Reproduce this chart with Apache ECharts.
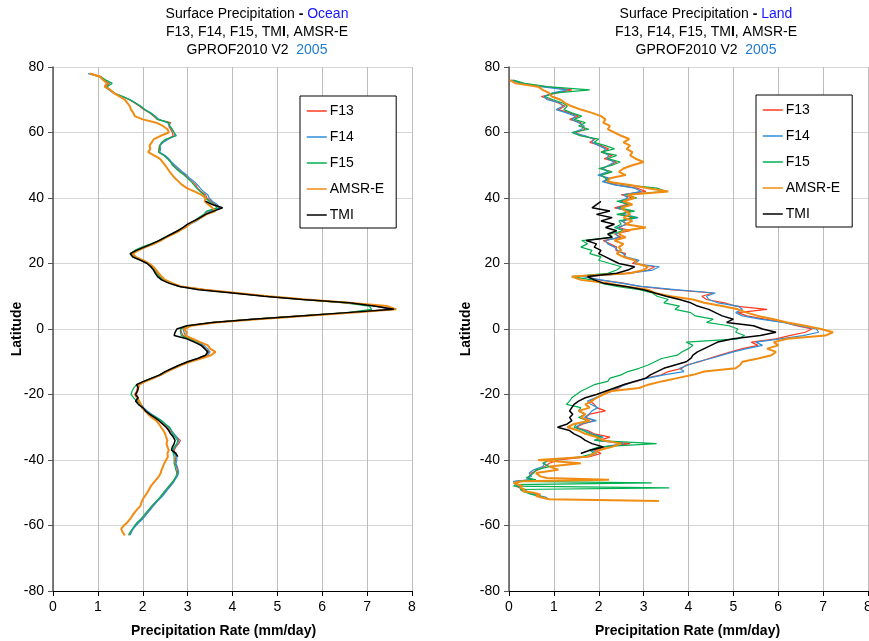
<!DOCTYPE html>
<html>
<head>
<meta charset="utf-8">
<script src="https://cdn.jsdelivr.net/npm/echarts@6/dist/echarts.min.js"></script>
<style>
  html, body { margin: 0; padding: 0; background: #fff; }
  #chart { width: 869px; height: 641px; }
</style>
</head>
<body>
<div id="chart"></div>
<script>
// ---------- Ocean panel: zonal mean surface precipitation (mm/day) by latitude ----------
const oceanLat = [
  78,77,76,75,74,73,72,71,70,69,
  68,67,66,65,64,63,62,61,60,59,
  58,57,56,55,54,53,52,51,50,49,
  48,47,46,45,44,43,42,41,40,39,
  38,37,36,35,34,33,32,31,30,29,
  28,27,26,25,24,23,22,21,20,19,
  18,17,16,15,14,13,12,11,10,9,
  8,7,6,5,4,3,2,1,0,-1,
  -2,-3,-4,-5,-6,-7,-8,-9,-10,-11,
  -12,-13,-14,-15,-16,-17,-18,-19,-20,-21,
  -22,-23,-24,-25,-26,-27,-28,-29,-30,-31,
  -32,-33,-34,-35,-36,-37,-38,-39,-40,-41,
  -42,-43,-44,-45,-46,-47,-48,-49,-50,-51,
  -52,-53,-54,-55,-56,-57,-58,-59,-60,-61,
  -62,-63
];
const oceanF13 = [
  0.85,1.08,1.15,1.26,1.18,1.27,1.36,1.55,1.70,1.82,
  1.93,2.02,2.15,2.24,2.32,2.62,2.58,2.62,2.66,2.68,
  2.55,2.44,2.37,2.36,2.35,2.48,2.56,2.62,2.68,2.76,
  2.84,2.95,3.02,3.10,3.18,3.22,3.30,3.40,3.43,3.52,
  3.62,3.70,3.46,3.38,3.26,3.18,3.02,2.94,2.80,2.66,
  2.50,2.38,2.22,2.03,1.86,1.75,1.82,1.98,2.12,2.20,
  2.27,2.32,2.38,2.48,2.62,2.82,3.35,4.05,4.75,5.60,
  6.55,7.25,7.55,6.60,5.55,4.50,3.58,3.02,2.85,2.86,
  2.90,3.06,3.20,3.32,3.40,3.48,3.42,3.25,3.02,2.84,
  2.68,2.52,2.40,2.22,2.05,1.90,1.88,1.86,1.82,1.86,
  1.89,1.95,2.00,2.08,2.18,2.30,2.40,2.46,2.55,2.60,
  2.68,2.76,2.84,2.80,2.74,2.70,2.72,2.74,2.73,2.72,
  2.75,2.77,2.78,2.76,2.70,2.66,2.60,2.54,2.48,2.42,
  2.35,2.28,2.22,2.16,2.10,2.05,1.98,1.90,1.84,1.78,
  1.74,1.70
];
const oceanF14 = [
  0.78,1.05,1.12,1.22,1.15,1.25,1.35,1.53,1.72,1.84,
  1.95,2.05,2.18,2.28,2.36,2.55,2.60,2.65,2.70,2.72,
  2.58,2.46,2.38,2.40,2.38,2.50,2.58,2.64,2.72,2.80,
  2.88,2.98,3.05,3.15,3.22,3.28,3.35,3.45,3.48,3.55,
  3.66,3.72,3.50,3.40,3.30,3.20,3.05,2.95,2.82,2.68,
  2.52,2.40,2.25,2.06,1.90,1.78,1.84,2.00,2.14,2.22,
  2.30,2.34,2.40,2.50,2.64,2.84,3.36,4.08,4.78,5.62,
  6.58,7.22,7.50,6.62,5.58,4.52,3.60,3.05,2.90,2.92,
  2.95,3.10,3.24,3.36,3.44,3.50,3.45,3.28,3.05,2.86,
  2.70,2.55,2.42,2.24,2.06,1.92,1.90,1.88,1.85,1.88,
  1.90,1.96,2.02,2.10,2.20,2.32,2.42,2.50,2.58,2.64,
  2.70,2.76,2.80,2.78,2.72,2.68,2.70,2.76,2.76,2.74,
  2.77,2.79,2.80,2.77,2.72,2.68,2.62,2.56,2.50,2.44,
  2.37,2.30,2.24,2.18,2.12,2.06,2.00,1.92,1.85,1.79,
  1.75,1.72
];
const oceanF15 = [
  0.82,1.06,1.18,1.32,1.20,1.28,1.38,1.56,1.72,1.84,
  1.96,2.04,2.16,2.26,2.33,2.58,2.60,2.66,2.70,2.75,
  2.52,2.42,2.38,2.37,2.36,2.47,2.55,2.62,2.66,2.74,
  2.82,2.92,3.00,3.08,3.14,3.20,3.28,3.36,3.40,3.48,
  3.58,3.66,3.42,3.36,3.24,3.15,3.00,2.92,2.78,2.64,
  2.48,2.36,2.18,1.98,1.82,1.72,1.78,1.96,2.10,2.18,
  2.26,2.30,2.36,2.46,2.60,2.80,3.33,4.02,4.72,5.55,
  6.50,7.05,7.10,6.55,5.52,4.48,3.56,3.00,2.84,2.84,
  2.86,3.02,3.18,3.30,3.38,3.44,3.40,3.22,3.00,2.82,
  2.66,2.50,2.38,2.20,2.02,1.86,1.80,1.76,1.74,1.80,
  1.86,1.94,2.00,2.07,2.17,2.30,2.42,2.50,2.60,2.64,
  2.66,2.72,2.78,2.76,2.70,2.66,2.68,2.70,2.70,2.70,
  2.72,2.74,2.76,2.74,2.70,2.64,2.58,2.52,2.46,2.40,
  2.34,2.27,2.20,2.14,2.08,2.02,1.96,1.88,1.82,1.77,
  1.72,1.68
];
const oceanAMSRE = [
  0.82,1.05,1.12,1.20,1.15,1.28,1.36,1.48,1.60,1.66,
  1.71,1.74,1.79,1.82,2.00,2.30,2.45,2.55,2.58,2.40,
  2.25,2.20,2.15,2.17,2.12,2.25,2.38,2.44,2.50,2.55,
  2.60,2.66,2.72,2.80,2.88,2.98,3.15,3.30,3.40,3.38,
  3.46,3.55,3.62,3.42,3.30,3.16,3.04,2.95,2.82,2.68,
  2.52,2.40,2.25,2.06,1.90,1.78,1.84,2.00,2.14,2.24,
  2.30,2.36,2.42,2.50,2.66,2.85,3.38,4.10,4.80,5.65,
  6.60,7.45,7.65,6.70,5.60,4.55,3.62,3.08,2.92,2.98,
  2.95,3.12,3.28,3.45,3.50,3.62,3.52,3.30,3.06,2.86,
  2.70,2.54,2.40,2.24,2.06,1.92,1.90,1.88,1.85,1.88,
  1.92,1.96,1.98,2.05,2.12,2.20,2.30,2.36,2.41,2.46,
  2.50,2.52,2.55,2.53,2.55,2.58,2.55,2.56,2.52,2.48,
  2.45,2.42,2.40,2.36,2.30,2.24,2.18,2.14,2.10,2.05,
  2.00,1.97,1.95,1.88,1.82,1.77,1.72,1.66,1.58,1.52,
  1.55,1.60
];
// TMI covers the tropics only: values start at 39N
const oceanTMIStart = 39;
const oceanTMI = [
  3.40,3.55,3.78,3.58,3.40,3.28,3.14,3.00,2.90,2.78,
  2.64,2.50,2.36,2.20,2.03,1.86,1.72,1.78,1.95,2.10,
  2.18,2.24,2.28,2.33,2.42,2.58,2.82,3.25,4.00,4.70,
  5.55,6.60,7.15,7.60,6.55,5.50,4.45,3.55,2.98,2.76,
  2.72,2.70,2.98,3.15,3.30,3.38,3.45,3.40,3.22,3.00,
  2.82,2.66,2.50,2.38,2.20,2.02,1.86,1.90,1.88,1.84,
  1.90,1.84,1.90,2.00,2.06,2.15,2.26,2.36,2.44,2.52,
  2.58,2.62,2.68,2.72,2.70,2.66,2.64,2.74,2.78
];

// ---------- Land panel ----------
const landLat = [
  76,75,74,73,72,71,70,69,68,67,
  66,65,64,63,62,61,60,59,58,57,
  56,55,54,53,52,51,50,49,48,47,
  46,45,44,43,42,41,40,39,38,37,
  36,35,34,33,32,31,30,29,28,27,
  26,25,24,23,22,21,20,19,18,17,
  16,15,14,13,12,11,10,9,8,7,
  6,5,4,3,2,1,0,-1,-2,-3,
  -4,-5,-6,-7,-8,-9,-10,-11,-12,-13,
  -14,-15,-16,-17,-18,-19,-20,-21,-22,-23,
  -24,-25,-26,-27,-28,-29,-30,-31,-32,-33,
  -34,-35,-36,-37,-38,-39,-40,-41,-42,-43,
  -44,-45,
  -45.5,-46,-46.5,-47,-47.5,-48,-48.5,-49,-49.5,-50,-50.5,-51,-51.5,-52,-52.5
];
const landF13 = [
  0.05,0.30,0.80,1.40,1.05,0.72,0.92,1.10,1.25,1.10,
  1.35,1.55,1.35,1.60,1.62,1.70,1.48,1.62,1.92,1.80,
  2.05,2.22,2.05,2.30,2.12,2.40,2.25,2.05,2.28,2.02,
  2.20,2.12,2.40,2.85,3.05,2.50,2.75,2.50,2.62,2.35,
  2.72,2.48,2.75,2.55,2.60,2.45,2.70,2.35,2.50,2.10,
  2.25,2.40,2.38,2.60,2.55,2.85,2.75,3.25,3.10,2.60,
  1.70,2.00,2.55,2.90,3.60,4.55,4.30,4.40,4.80,5.05,
  5.75,5.10,5.30,5.70,6.15,6.40,6.75,6.60,6.25,5.95,
  5.40,5.55,5.20,4.95,4.70,4.45,4.25,3.95,3.85,3.55,
  3.40,3.05,2.85,2.55,2.45,2.30,2.10,1.95,1.80,1.90,
  1.95,2.15,1.80,1.70,1.90,1.65,1.50,1.75,1.90,2.25,
  2.00,2.70,2.15,1.90,2.05,1.80,1.10,0.90,0.80,0.65,
  0.50,0.45,
  0.40,0.55,0.15,0.12,0.20,0.15,0.25,0.30,0.35,0.50,0.55,0.70,0.68,null,null
];
const landF14 = [
  0.08,0.25,0.70,1.30,0.95,0.78,0.85,1.15,1.20,1.05,
  1.28,1.48,1.40,1.55,1.68,1.62,1.42,1.70,1.88,1.85,
  2.00,2.15,2.10,2.22,2.18,2.35,2.22,2.10,2.20,1.98,
  2.25,2.08,2.35,2.80,2.95,2.55,2.65,2.45,2.68,2.40,
  2.65,2.55,2.88,2.50,2.65,2.40,2.60,2.38,2.45,2.15,
  2.20,2.35,2.42,2.55,2.60,2.90,2.80,3.35,3.20,2.65,
  1.65,2.05,2.50,2.95,3.70,4.60,4.40,4.45,4.65,5.10,
  5.20,5.05,5.20,5.60,6.10,6.45,6.85,6.90,6.55,6.05,
  5.50,5.65,5.30,5.00,4.75,4.50,4.20,4.00,3.80,3.90,
  3.45,3.10,2.80,2.60,2.40,2.25,2.08,1.92,1.75,1.82,
  1.98,1.85,1.78,1.68,1.95,1.60,1.48,1.70,1.85,2.10,
  1.95,2.55,2.10,1.85,1.95,1.70,0.85,0.80,0.75,0.55,
  0.45,0.50,
  0.42,0.50,0.10,0.08,0.15,0.20,0.22,0.28,0.40,0.45,0.60,0.72,0.85,null,null
];
const landF15 = [
  0.10,0.35,0.85,1.80,1.00,0.80,0.98,1.20,1.30,1.22,
  1.40,1.62,1.45,1.70,1.55,1.78,1.40,1.58,2.00,1.90,
  2.15,2.35,2.05,2.40,2.20,2.48,2.30,2.00,2.30,2.05,
  2.15,2.20,2.60,3.30,3.50,2.60,2.85,2.40,2.70,2.45,
  2.80,2.40,2.85,2.45,2.50,2.35,2.55,2.25,2.30,1.62,
  1.75,1.60,1.85,1.80,2.05,2.00,2.25,2.50,2.40,2.20,
  1.40,1.85,2.05,2.40,2.90,3.20,3.30,3.55,3.45,3.80,
  3.70,4.05,4.15,4.55,4.40,4.90,5.10,5.05,5.25,5.10,
  3.95,4.10,4.00,3.85,3.75,3.40,3.25,3.10,2.90,2.65,
  2.50,2.25,2.20,1.90,1.75,1.60,1.50,1.40,1.35,1.28,
  1.60,1.55,1.70,1.55,1.75,1.50,1.45,1.65,1.80,2.05,
  1.90,3.29,2.00,1.80,1.90,1.60,0.90,0.75,0.90,0.60,
  0.55,0.45,
  0.38,0.60,0.20,3.18,0.15,0.10,3.57,0.25,0.30,0.40,0.50,0.65,0.80,null,null
];
const landAMSRE = [
  0.02,0.15,0.65,0.75,0.90,0.95,1.15,1.25,1.40,1.60,
  1.85,2.05,2.15,2.10,2.25,2.20,2.35,2.50,2.68,2.55,
  2.70,2.62,2.75,2.70,2.82,3.00,2.75,2.55,2.45,2.60,
  2.25,2.20,2.70,3.10,3.55,2.65,2.80,2.55,2.75,2.50,
  2.60,2.70,2.55,2.75,2.60,3.05,2.55,2.45,2.60,2.35,
  2.55,2.45,2.50,2.40,2.55,2.80,2.85,3.10,3.00,2.70,
  1.40,1.60,2.20,2.60,3.10,3.25,3.60,4.10,4.35,4.75,
  5.10,5.30,5.55,5.90,6.20,6.60,6.95,7.22,7.05,6.20,
  5.90,6.00,5.75,5.95,5.85,5.55,5.20,5.15,5.05,4.35,
  4.10,3.75,3.40,3.10,2.90,2.25,2.10,1.95,1.85,1.70,
  1.80,1.55,1.70,1.60,1.80,1.45,1.30,1.55,1.70,1.95,
  2.10,2.50,2.30,2.00,1.90,1.75,0.65,1.60,0.90,1.10,
  0.60,0.70,
  0.85,2.23,0.30,0.10,0.20,0.30,0.25,0.35,0.30,0.55,0.70,0.60,0.75,0.90,3.34
];
const landTMIStart = 39;
const landTMI = [
  2.05,1.95,1.85,2.25,1.95,2.30,2.05,2.35,2.15,2.40,
  2.20,2.30,1.72,1.95,1.90,2.05,2.00,2.15,2.30,2.45,
  2.80,2.65,2.40,1.75,1.90,2.10,2.60,3.00,3.25,3.50,
  3.80,4.05,4.20,4.45,4.60,4.75,5.00,4.85,5.45,5.65,
  5.95,5.60,5.00,4.65,4.50,4.35,4.20,4.10,4.05,3.95,
  3.70,3.45,3.30,3.15,3.05,2.80,2.55,2.35,2.15,1.95,
  1.70,1.55,1.45,1.40,1.35,1.42,1.35,1.40,1.30,1.08,
  1.35,1.45,1.60,1.70,1.85,2.10,1.80,1.60
];

// ---------- Axis ticks, names and styling ----------
const rateTicks = [0, 8, 1];         // min, max, step (mm/day)
const latTicks = [-80, 80, 20];      // min, max, step (degrees)
const seriesNames = ['F13', 'F14', 'F15', 'AMSR-E', 'TMI'];
const seriesColors = ['#ff3b1f', '#2e8fd8', '#00b050', '#f08c12', '#000000'];
const seriesWidths = [1.2, 1.2, 1.2, 2, 1.5];

const FONT = '"Liberation Sans", Arial, Helvetica, sans-serif';

// pair rate values with their latitude, skipping gaps
function toPoints(lats, values, startLat) {
  const i0 = startLat === undefined ? 0 : lats.indexOf(startLat);
  const pts = [];
  values.forEach(function (v, k) {
    if (v !== null && v !== undefined) pts.push([v, lats[i0 + k]]);
  });
  return pts;
}

const panels = [
  { lat: oceanLat, data: [oceanF13, oceanF14, oceanF15, oceanAMSRE, oceanTMI], tmiStart: oceanTMIStart },
  { lat: landLat,  data: [landF13, landF14, landF15, landAMSRE, landTMI],      tmiStart: landTMIStart }
];

const series = [];
panels.forEach(function (p, gi) {
  seriesNames.forEach(function (name, si) {
    series.push({
      name: name,
      type: 'line',
      xAxisIndex: gi,
      yAxisIndex: gi,
      data: toPoints(p.lat, p.data[si], name === 'TMI' ? p.tmiStart : undefined),
      symbol: 'none',
      showSymbol: false,
      clip: true,
      z: 2 + si,
      lineStyle: { color: seriesColors[si], width: seriesWidths[si] },
      itemStyle: { color: seriesColors[si] },
      emphasis: { disabled: true }
    });
  });
});

function xAxisFor(gi, nameGap, namePad) {
  return {
    gridIndex: gi, type: 'value',
    min: rateTicks[0], max: rateTicks[1], interval: rateTicks[2],
    name: 'Precipitation Rate (mm/day)', nameLocation: 'middle', nameGap: nameGap,
    nameMoveOverlap: false,
    nameTextStyle: { fontFamily: FONT, fontSize: 14, fontWeight: 'bold', color: '#000', padding: namePad },
    axisLine: { show: true, onZero: false, lineStyle: { color: '#000', width: 1 } },
    axisTick: { show: true, inside: false, length: 5, lineStyle: { color: '#000' } },
    axisLabel: { fontFamily: FONT, fontSize: 14, color: '#000', margin: 9, showMaxLabel: true },
    splitLine: { show: true, lineStyle: { color: '#bdbdbd', width: 1 } }
  };
}
function yAxisFor(gi, nameGap) {
  return {
    gridIndex: gi, type: 'value',
    min: latTicks[0], max: latTicks[1], interval: latTicks[2],
    name: 'Latitude', nameLocation: 'middle', nameGap: nameGap, nameRotate: 90,
    nameMoveOverlap: false,
    nameTextStyle: { fontFamily: FONT, fontSize: 14, fontWeight: 'bold', color: '#000' },
    axisLine: { show: true, onZero: false, lineStyle: { color: '#555', width: 1.5 } },
    axisTick: { show: true, inside: false, length: 5, lineStyle: { color: '#555' } },
    axisLabel: { fontFamily: FONT, fontSize: 14, color: '#000', margin: 9 },
    splitLine: { show: true, lineStyle: { color: '#d6d6d6', width: 1 } }
  };
}

const titleRich = {
  n: { fontFamily: FONT, fontSize: 14, color: '#000', fontWeight: 'normal', lineHeight: 18 },
  b: { fontFamily: FONT, fontSize: 14, color: '#000', fontWeight: 'bold', lineHeight: 18 },
  c: { fontFamily: FONT, fontSize: 14, color: '#1515ff', fontWeight: 'normal', lineHeight: 18 },
  y: { fontFamily: FONT, fontSize: 14, color: '#1f7ad0', fontWeight: 'normal', lineHeight: 18 }
};
function titleText(region) {
  return '{n|Surface Precipitation }{b|-}{n| }{c|' + region + '}\n' +
         '{n|F13, F14, F15, TM}{b|I}{n|, AMSR-E}\n' +
         '{n|GPROF2010 V2  }{y|2005}';
}

function legendAt(left, top) {
  return {
    data: seriesNames,
    orient: 'vertical',
    left: left, top: top,
    itemWidth: 20, itemHeight: 14, itemGap: 12,
    padding: [8, 12, 6, 6],
    backgroundColor: '#fff',
    borderColor: '#000', borderWidth: 1,
    selectedMode: false,
    itemStyle: { opacity: 0 },
    lineStyle: { width: 1.5 },
    textStyle: { fontFamily: FONT, fontSize: 14, color: '#000', padding: [0, 0, 0, -2] }
  };
}

const chart = echarts.init(document.getElementById('chart'), null, { renderer: 'canvas' });
chart.setOption({
  animation: false,
  backgroundColor: '#fff',
  title: [
    { text: titleText('Ocean'), left: 252, top: 0, textAlign: 'center', textStyle: { fontWeight: 'normal', rich: titleRich } },
    { text: titleText('Land'),  left: 701, top: 0, textAlign: 'center', textStyle: { fontWeight: 'normal', rich: titleRich } }
  ],
  legend: [legendAt(300, 96), legendAt(756, 95)],
  grid: [
    { left: 53, top: 67, width: 359, height: 524, outerBoundsMode: 'none' },
    { left: 509, top: 67, width: 359, height: 524, outerBoundsMode: 'none' }
  ],
  xAxis: [xAxisFor(0, 33, [0, 18, 0, 0]), xAxisFor(1, 33, [0, 2, 0, 0])],
  yAxis: [yAxisFor(0, 29), yAxisFor(1, 36)],
  series: series
});
</script>
</body>
</html>
